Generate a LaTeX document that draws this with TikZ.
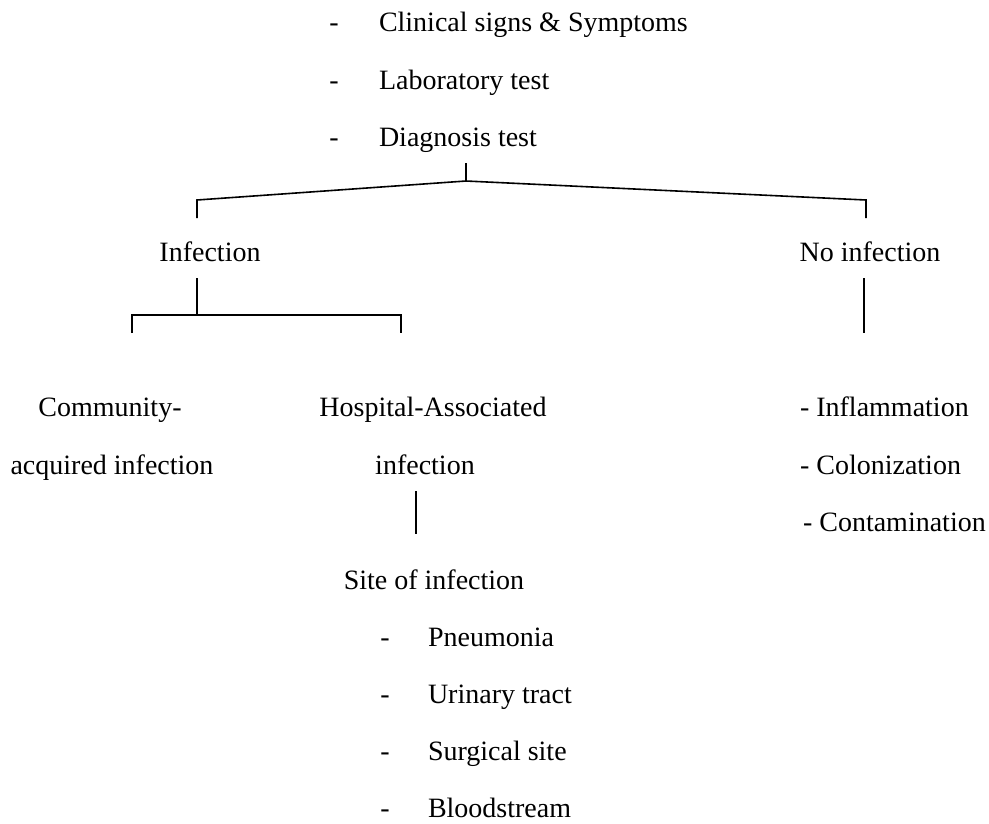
\documentclass[tikz,border=0pt]{standalone}
\usepackage{fontspec}
\setmainfont{Liberation Serif}
\begin{document}
\begin{tikzpicture}[x=1pt,y=-1pt,
  txt/.style={inner sep=0pt,outer sep=0pt,font=\fontsize{28}{34}\selectfont},
  lt/.style={txt,anchor=base west},
  ct/.style={txt,anchor=base},
  link/.style={line width=1.6pt,line cap=butt}]
\useasboundingbox (0,0) rectangle (989,823);
% top list
\node[ct] (d1) at (334,31) {-};
\node[lt] (t1) at (379,31) {Clinical signs \& Symptoms};
\node[ct] (d2) at (334,89) {-};
\node[lt] (t2) at (379,89) {Laboratory test};
\node[ct] (d3) at (334,146) {-};
\node[lt] (t3) at (379,146) {Diagnosis test};
% second level
\node[ct] (inf) at (210,261) {Infection};
\node[ct] (noinf) at (870,261) {No infection};
% third level
\node[ct] (comm1) at (110,416) {Community-};
\node[ct] (comm2) at (112,474) {acquired infection};
\node[ct] (hosp1) at (433,416) {Hospital-Associated};
\node[ct] (hosp2) at (425,474) {infection};
\node[lt] (n1) at (800,416) {- Inflammation};
\node[lt] (n2) at (800,474) {- Colonization};
\node[lt] (n3) at (803,531) {- Contamination};
% site
\node[ct] (site) at (434,589) {Site of infection};
\node[ct] (sd1) at (385,646) {-};
\node[lt] (s1) at (428,646) {Pneumonia};
\node[ct] (sd2) at (385,703) {-};
\node[lt] (s2) at (428,703) {Urinary tract};
\node[ct] (sd3) at (385,760) {-};
\node[lt] (s3) at (428,760) {Surgical site};
\node[ct] (sd4) at (385,817) {-};
\node[lt] (s4) at (428,817) {Bloodstream};
% connector points
\coordinate (top) at (466,163);
\coordinate (apex) at (466,181);
\coordinate (lA) at (197,200);
\coordinate (lB) at (197,218);
\coordinate (rA) at (866,200);
\coordinate (rB) at (866,218);
\coordinate (iA) at (197,278);
\coordinate (iB) at (197,315);
\coordinate (bL) at (132,315);
\coordinate (bLd) at (132,333);
\coordinate (bR) at (401,315);
\coordinate (bRd) at (401,333);
\coordinate (nA) at (864,278);
\coordinate (nB) at (864,333);
\coordinate (hA) at (416,491);
\coordinate (hB) at (416,534);
% connectors
\draw[link] (top) -- (apex);
\draw[link] (lB) -- (lA) -- (apex) -- (rA) -- (rB);
\draw[link] (iA) -- (iB);
\draw[link] (bLd) -- (bL) -- (bR) -- (bRd);
\draw[link] (nA) -- (nB);
\draw[link] (hA) -- (hB);
\end{tikzpicture}
\end{document}
